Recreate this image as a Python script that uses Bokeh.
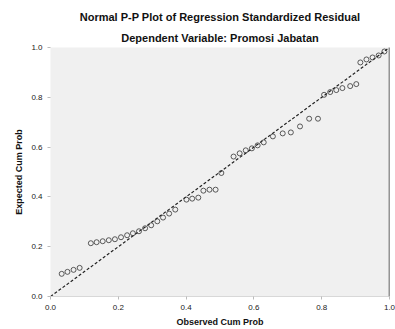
from bokeh.plotting import figure
from bokeh.models import Title, Range1d, FixedTicker, Span, CustomJSTickFormatter
from bokeh.embed import file_html
from bokeh.resources import INLINE

# Observed cumulative probability vs expected cumulative probability
observed = [0.033, 0.050, 0.068, 0.086, 0.119, 0.136, 0.154, 0.172, 0.190, 0.208,
            0.226, 0.243, 0.261, 0.279, 0.297, 0.315, 0.332, 0.350, 0.368, 0.401,
            0.418, 0.436, 0.451, 0.469, 0.487, 0.504, 0.540, 0.558, 0.576, 0.594,
            0.611, 0.629, 0.656, 0.685, 0.709, 0.736, 0.763, 0.789, 0.807, 0.825,
            0.843, 0.861, 0.884, 0.902, 0.914, 0.932, 0.950, 0.968, 0.985]
expected = [0.091, 0.099, 0.107, 0.115, 0.214, 0.218, 0.222, 0.226, 0.230, 0.238,
            0.246, 0.254, 0.262, 0.274, 0.286, 0.302, 0.317, 0.333, 0.349, 0.389,
            0.393, 0.397, 0.425, 0.429, 0.429, 0.496, 0.562, 0.575, 0.587, 0.595,
            0.607, 0.619, 0.643, 0.655, 0.659, 0.683, 0.714, 0.714, 0.810, 0.821,
            0.829, 0.837, 0.845, 0.853, 0.940, 0.952, 0.960, 0.968, 0.984]
diag = [0.0, 1.0]
ticks = [0.0, 0.2, 0.4, 0.6, 0.8, 1.0]

p = figure(width=395, height=329, output_backend="svg", toolbar_location=None,
           x_range=Range1d(0, 1), y_range=Range1d(0, 1),
           min_border_left=50, min_border_right=6, min_border_top=0, min_border_bottom=32)
p.background_fill_color = "#f0f0f0"
p.border_fill_color = "white"
p.outline_line_color = None
p.grid.visible = False

p.add_layout(Title(text="Dependent Variable: Promosi Jabatan", align="center",
                   text_font="Liberation Sans", text_font_size="11px", standoff=8,
                   text_font_style="bold", text_color="#111111"), "above")
p.add_layout(Title(text="Normal P-P Plot of Regression Standardized Residual", align="center",
                   text_font="Liberation Sans", text_font_size="11px", standoff=5,
                   text_font_style="bold", text_color="#111111"), "above")
p.add_layout(Title(text=" ", align="center", text_font_size="2px", standoff=2), "above")

fmt = CustomJSTickFormatter(code="return tick.toFixed(1);")
for ax in (p.xaxis[0], p.yaxis[0]):
    ax.ticker = FixedTicker(ticks=ticks)
    ax.formatter = fmt
    ax.major_label_text_font = "Liberation Sans"
    ax.major_label_text_font_size = "8px"
    ax.major_label_text_color = "#222222"
    ax.axis_line_color = "#d8d8d8"
    ax.major_tick_line_color = "#bbbbbb"
    ax.major_tick_out = 3
    ax.major_tick_in = 0
    ax.minor_tick_line_color = None
    ax.axis_label_text_font = "Liberation Sans"
    ax.axis_label_text_font_size = "9px"
    ax.axis_label_text_font_style = "bold"
    ax.axis_label_text_color = "#111111"
    ax.axis_label_standoff = 4
p.xaxis[0].axis_label = "Observed Cum Prob"
p.yaxis[0].axis_label = "Expected Cum Prob"
p.yaxis[0].axis_line_color = None

# right border line
p.add_layout(Span(location=1.0, dimension="height", line_color="#333333", line_width=1.5))

p.line(diag, diag, line_color="#222222", line_width=1.2, line_dash="3 2")
p.scatter(observed, expected, marker="circle", size=5, fill_color=None,
          line_color="#333333", line_width=0.8)

open("out.html", "w").write(file_html(p, INLINE))
